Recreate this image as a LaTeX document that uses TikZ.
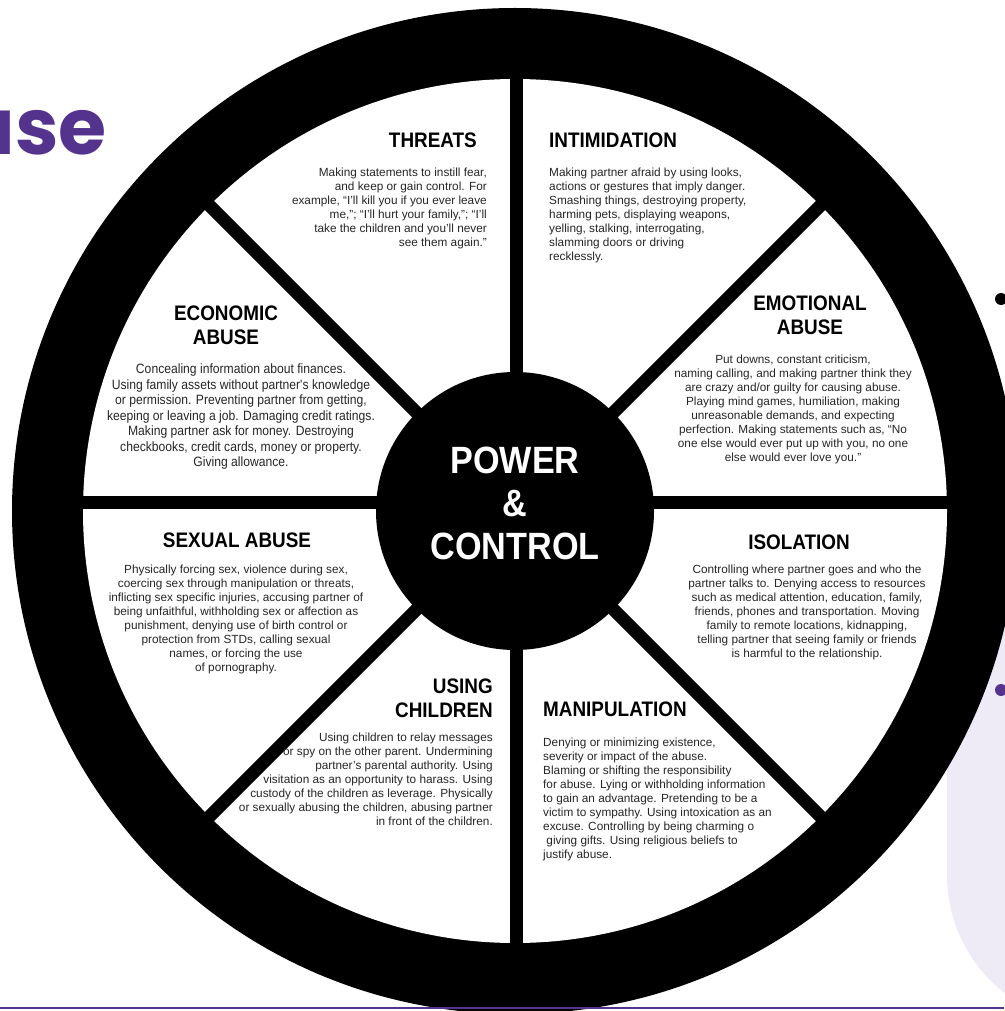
\documentclass[tikz,border=0pt]{standalone}
\usepackage{fontspec}
\setmainfont{Liberation Sans}
\newfontfamily\condfont[FakeStretch=0.9]{Liberation Sans}
\newfontfamily\titlefont{Poppins}
\usetikzlibrary{positioning}
\definecolor{brandpurple}{RGB}{84,51,142}
\definecolor{lavender}{RGB}{238,235,247}

\begin{document}
\begin{tikzpicture}[x=1pt,y=-1pt,
    head/.style={font=\condfont\bfseries\fontsize{21}{24}\selectfont,inner sep=0pt},
    body/.style={font=\fontsize{11.8}{14}\selectfont,text=black!85,inner sep=0pt},
    condbody/.style={font=\condfont\fontsize{13.5}{15.5}\selectfont,text=black!85,inner sep=0pt},
    spoke/.style={line width=13pt}]
  \useasboundingbox (0,0) rectangle (1004,1011);

  % background bits
  \fill[lavender,rounded corners=150] (947,400) rectangle (1300,1025);
  \node[anchor=base east,text=brandpurple,inner sep=0pt,
        font=\titlefont\bfseries\fontsize{78}{78}\selectfont] (title) at (107,155) {use};

  % the wheel
  \coordinate (c) at (515,511);
  \fill[black] (c) circle (503);
  \fill[white] (c) circle (432);
  \draw[spoke] (516,75) -- (516,947);
  \draw[spoke] (75,502) -- (955,502);
  \draw[spoke] (204,200) -- (826,822);
  \draw[spoke] (826,200) -- (204,822);
  \fill[black] (c) circle (139);
  \node[align=center,text=white,inner sep=0pt,
        font=\condfont\bfseries\fontsize{38}{43}\selectfont] (hub) at (515,503)
        {POWER\\\&\\CONTROL};

  % segments
  \node[head,anchor=east] (threats) at (477,140) {THREATS};
  \node[body,anchor=north east,align=right] (threats-txt) at (487,168)
    {Making statements to instill fear,\\
     and keep or gain control. For\\
     example, ``I'll kill you if you ever leave\\
     me,''; ``I'll hurt your family,''; ``I'll\\
     take the children and you'll never\\
     see them again.''};

  \node[head,anchor=west] (intimidation) at (549,140) {INTIMIDATION};
  \node[body,anchor=north west,align=left] (intimidation-txt) at (549,168)
    {Making partner afraid by using looks,\\
     actions or gestures that imply danger.\\
     Smashing things, destroying property,\\
     harming pets, displaying weapons,\\
     yelling, stalking, interrogating,\\
     slamming doors or driving\\
     recklessly.};

  \node[head,align=center] (emotional) at (810,315) {EMOTIONAL\\ABUSE};
  \node[body,anchor=north,align=center] (emotional-txt) at (793,355)
    {Put downs, constant criticism,\\
     naming calling, and making partner think they\\
     are crazy and/or guilty for causing abuse.\\
     Playing mind games, humiliation, making\\
     unreasonable demands, and expecting\\
     perfection. Making statements such as, ``No\\
     one else would ever put up with you, no one\\
     else would ever love you.''};

  \node[head,align=center] (economic) at (226,325) {ECONOMIC\\ABUSE};
  \node[condbody,anchor=north,align=center] (economic-txt) at (241,364)
    {Concealing information about finances.\\
     Using family assets without partner's knowledge\\
     or permission. Preventing partner from getting,\\
     keeping or leaving a job. Damaging credit ratings.\\
     Making partner ask for money. Destroying\\
     checkbooks, credit cards, money or property.\\
     Giving allowance.};

  \node[head] (sexual) at (237,540) {SEXUAL ABUSE};
  \node[body,anchor=north,align=center] (sexual-txt) at (236,565)
    {Physically forcing sex, violence during sex,\\
     coercing sex through manipulation or threats,\\
     inflicting sex specific injuries, accusing partner of\\
     being unfaithful, withholding sex or affection as\\
     punishment, denying use of birth control or\\
     protection from STDs, calling sexual\\
     names, or forcing the use\\
     of pornography.};

  \node[head,anchor=east,align=right] (children) at (493,698.5) {USING\\CHILDREN};
  \node[body,anchor=north east,align=right] (children-txt) at (493,733)
    {Using children to relay messages\\
     or spy on the other parent. Undermining\\
     partner's parental authority. Using\\
     visitation as an opportunity to harass. Using\\
     custody of the children as leverage. Physically\\
     or sexually abusing the children, abusing partner\\
     in front of the children.};

  \node[head] (isolation) at (799,542) {ISOLATION};
  \node[body,anchor=north,align=center] (isolation-txt) at (807,565)
    {Controlling where partner goes and who the\\
     partner talks to. Denying access to resources\\
     such as medical attention, education, family,\\
     friends, phones and transportation. Moving\\
     family to remote locations, kidnapping,\\
     telling partner that seeing family or friends\\
     is harmful to the relationship.};

  \node[head,anchor=west] (manipulation) at (543,709) {MANIPULATION};
  \node[body,anchor=north west,align=left] (manipulation-txt) at (543,738)
    {Denying or minimizing existence,\\
     severity or impact of the abuse.\\
     Blaming or shifting the responsibility\\
     for abuse. Lying or withholding information\\
     to gain an advantage. Pretending to be a\\
     victim to sympathy. Using intoxication as an\\
     excuse. Controlling by being charming o\\
     \ giving gifts. Using religious beliefs to\\
     justify abuse.};

  % edge of the slide
  \fill[black] (1001,299) circle (6);
  \fill[brandpurple] (1001,690) circle (6);
  \draw[brandpurple,line width=2pt] (0,1008) -- (1004,1008);
\end{tikzpicture}
\end{document}
